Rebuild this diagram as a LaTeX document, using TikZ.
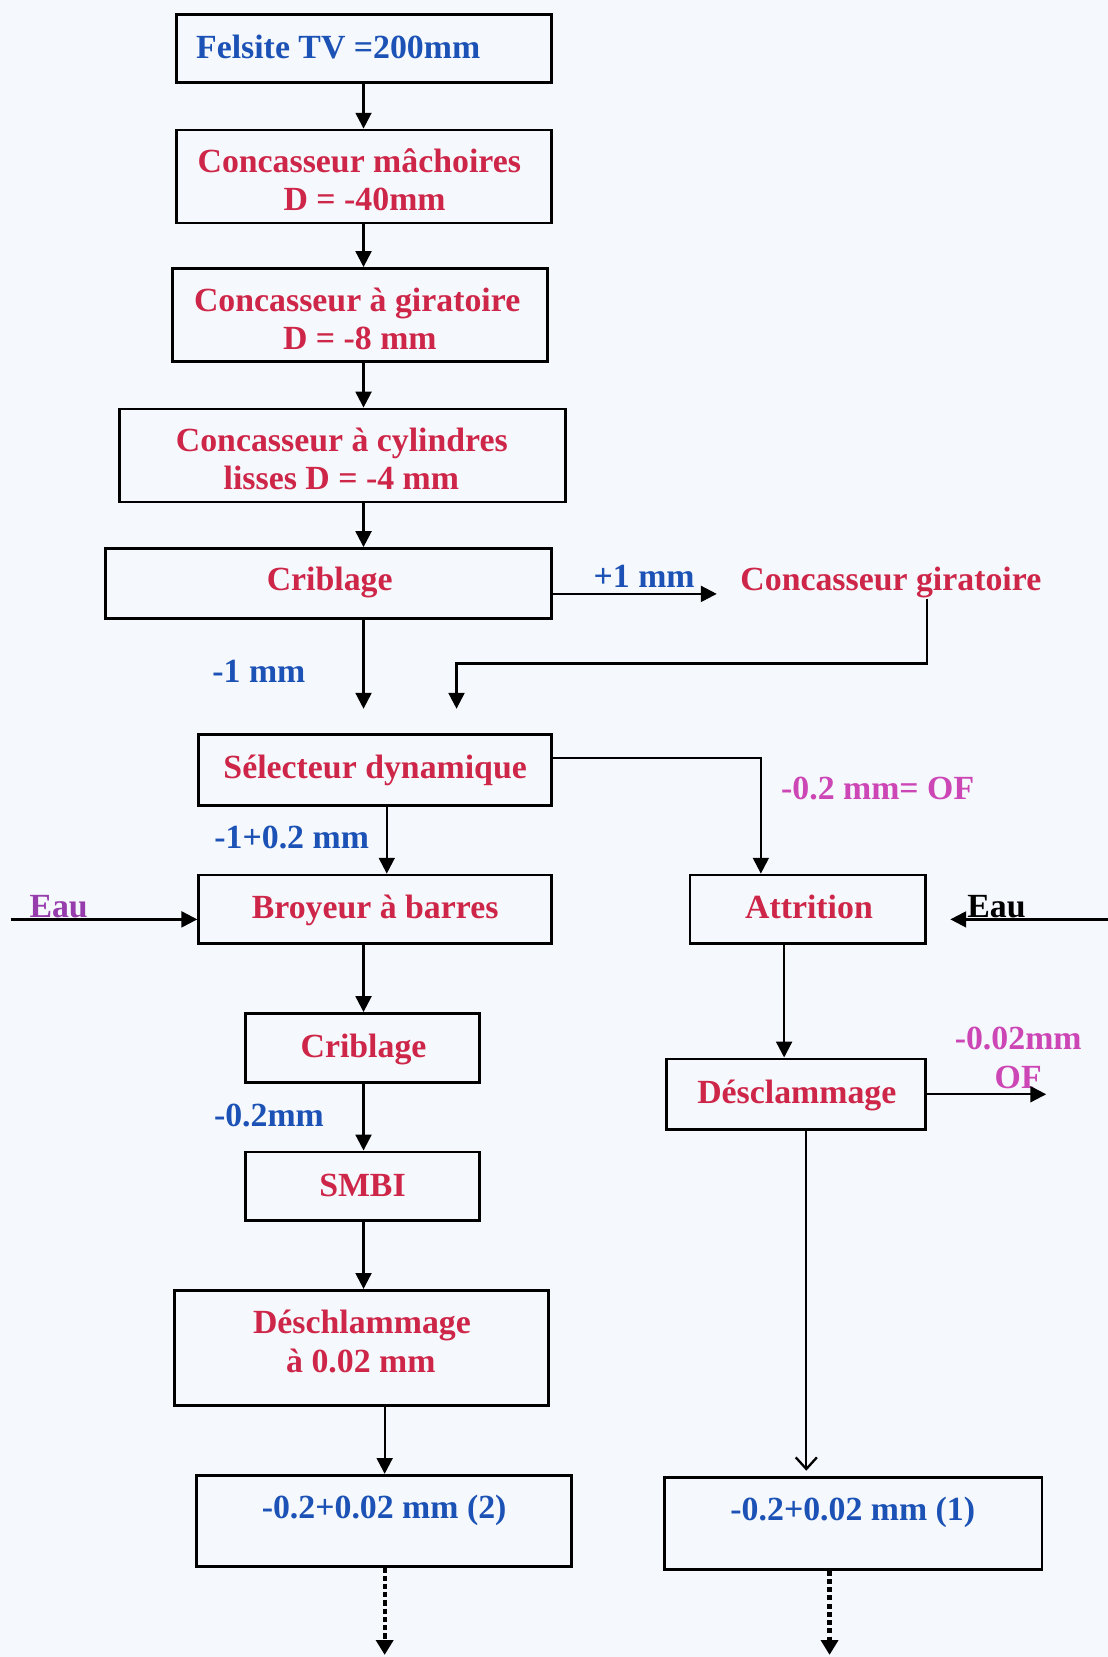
\documentclass[tikz,border=0pt]{standalone}
\usepackage{fontspec}
\setmainfont{Liberation Serif}
\usetikzlibrary{arrows.meta,calc}

\definecolor{paper}{RGB}{245,248,252}
\definecolor{stepred}{RGB}{206,38,72}
\definecolor{sizeblue}{RGB}{28,82,182}
\definecolor{ofmagenta}{RGB}{204,70,182}
\definecolor{waterpurple}{RGB}{150,60,172}

\tikzset{
  box/.style={draw=black, line width=1.3pt, inner sep=0pt},
  txt/.style={font=\bfseries\fontsize{16}{18}\selectfont, inner sep=0pt, anchor=base},
  proc/.style={txt, text=stepred},
  sizelbl/.style={txt, text=sizeblue},
  oflbl/.style={txt, text=ofmagenta},
  flow/.style={line width=1.1pt, -{Triangle[length=7.5pt,width=7.5pt]}},
  openflow/.style={line width=1.1pt, -{Straight Barb[length=5.5pt,width=10pt,line width=1.1pt]}},
  feed/.style={line width=2pt, dash pattern=on 2.4pt off 1.5pt,
               -{Triangle[length=7pt,width=8pt]}},
}

\begin{document}
\begin{tikzpicture}[x=0.5pt,y=-0.5pt]
  % page
  \path[use as bounding box, fill=paper] (0,0) rectangle (1048,1568);

  % column guides for the connectors
  \coordinate (colA) at (344,0);
  \coordinate (colB) at (720,0);
  \coordinate (colC) at (366,0);
  \coordinate (colD) at (364,0);
  \coordinate (colE) at (742,0);
  \coordinate (colF) at (763,0);
  \coordinate (colG) at (785,0);
  \coordinate (colH) at (432,0);
  \coordinate (colI) at (877,0);
  \coordinate (rowCG) at (0,562);
  \coordinate (rowBack) at (0,628);
  \coordinate (eauLin) at (10,870);
  \coordinate (eauRin) at (1048,870);
  \coordinate (ofOut) at (990,1035.5);
  \coordinate (outL) at (364,1566);
  \coordinate (outR) at (785,1566);

  % process boxes
  \node[box, minimum width=177.5pt, minimum height=32pt]   (b1)  at (344.5,46) {};
  \node[box, minimum width=177.5pt, minimum height=44pt]   (b2)  at (344.5,167) {};
  \node[box, minimum width=177.5pt, minimum height=44pt]   (b3)  at (340.5,298) {};
  \node[box, minimum width=211pt,   minimum height=44pt]   (b4)  at (324,431) {};
  \node[box, minimum width=211pt,   minimum height=33pt]   (b5)  at (311,552) {};
  \node[box, minimum width=167pt,   minimum height=33.5pt] (b6)  at (355,728.5) {};
  \node[box, minimum width=167pt,   minimum height=32.5pt] (b7)  at (355,860.5) {};
  \node[box, minimum width=111.5pt, minimum height=32.5pt] (b8)  at (764.5,860.5) {};
  \node[box, minimum width=111pt,   minimum height=32.5pt] (b9)  at (343,991.5) {};
  \node[box, minimum width=111pt,   minimum height=32.5pt] (b10) at (343,1122.5) {};
  \node[box, minimum width=177pt,   minimum height=54.5pt] (b11) at (342,1275.5) {};
  \node[box, minimum width=177.5pt, minimum height=43pt]   (b12) at (363.5,1439) {};
  \node[box, minimum width=122.5pt, minimum height=33.5pt] (b13) at (753.5,1035.5) {};
  \node[box, minimum width=178.5pt, minimum height=43.5pt] (b14) at (807.5,1441.5) {};

  % box texts
  \node[sizelbl] (t1)  at (320,55)    {Felsite TV =200mm};
  \node[proc]    (t2a) at (340,163)   {Concasseur mâchoires};
  \node[proc]    (t2b) at (345,199)   {D = -40mm};
  \node[proc]    (t3a) at (338,295)   {Concasseur à giratoire};
  \node[proc]    (t3b) at (340.5,331) {D = -8 mm};
  \node[proc]    (t4a) at (323.5,427) {Concasseur à cylindres};
  \node[proc]    (t4b) at (323,463)   {lisses D = -4 mm};
  \node[proc]    (t5)  at (312,559)   {Criblage};
  \node[proc]    (cg)  at (843,559)   {Concasseur giratoire};
  \node[proc]    (t6)  at (355,737)   {Sélecteur dynamique};
  \node[proc]    (t7)  at (355,869)   {Broyeur à barres};
  \node[proc]    (t8)  at (765.5,869) {Attrition};
  \node[proc]    (t9)  at (344,1001)  {Criblage};
  \node[proc]    (t10) at (343,1132)  {SMBI};
  \node[proc]    (t11a) at (342.5,1262) {Déschlammage};
  \node[proc]    (t11b) at (341.5,1299) {à 0.02 mm};
  \node[sizelbl] (t12) at (363.5,1437) {-0.2+0.02 mm (2)};
  \node[proc]    (t13) at (754,1044)  {Désclammage};
  \node[sizelbl] (t14) at (807,1439)  {-0.2+0.02 mm (1)};

  % stream labels
  \node[sizelbl] (l1) at (609.5,556) {+1 mm};
  \node[sizelbl] (l2) at (245,646)   {-1 mm};
  \node[oflbl]   (l3) at (830.5,757) {-0.2 mm= OF};
  \node[sizelbl] (l4) at (276,803)   {-1+0.2 mm};
  \node[txt, text=waterpurple] (eauL) at (55.5,868) {Eau};
  \node[txt, text=black]       (eauR) at (943,868)  {Eau};
  \node[sizelbl] (l5) at (254.5,1066) {-0.2mm};
  \node[oflbl]   (l6) at (963.5,993)  {-0.02mm};
  \node[oflbl]   (l7) at (963.5,1030) {OF};

  % crushing chain
  \draw[flow] (b1.south -| colA) -- (b2.north -| colA);
  \draw[flow] (b2.south -| colA) -- (b3.north -| colA);
  \draw[flow] (b3.south -| colA) -- (b4.north -| colA);
  \draw[flow] (b4.south -| colA) -- (b5.north -| colA);

  % screen oversize to the gyratory crusher and back
  \draw[flow, shorten >=11pt] (b5.east |- rowCG) -- (cg.west |- rowCG);
  \draw[flow, shorten >=11.5pt] (cg.south -| colI) |- (colH |- rowBack) -- (b6.north -| colH);
  \draw[flow, shorten >=11.5pt] (b5.south -| colA) -- (b6.north -| colA);

  % dynamic separator
  \draw[flow] ($(b6.east)+(0,-11.5)$) -| (b8.north -| colB);
  \draw[flow] (b6.south -| colC) -- (b7.north -| colC);

  % water feeds
  \draw[flow] (eauLin) -- (b7.west |- eauLin);
  \draw[flow, shorten >=11pt] (eauRin) -- (b8.east |- eauRin);

  % left branch
  \draw[flow] (b7.south -| colA) -- (b9.north -| colA);
  \draw[flow] (b9.south -| colA) -- (b10.north -| colA);
  \draw[flow] (b10.south -| colA) -- (b11.north -| colA);
  \draw[flow] (b11.south -| colD) -- (b12.north -| colD);
  \draw[feed] (b12.south -| colD) -- (outL);

  % right branch
  \draw[flow] (b8.south -| colE) -- (b13.north -| colE);
  \draw[flow] (b13.east) -- (ofOut);
  \draw[openflow, shorten >=2.5pt] (b13.south -| colF) -- (b14.north -| colF);
  \draw[feed] (b14.south -| colG) -- (outR);
\end{tikzpicture}
\end{document}
